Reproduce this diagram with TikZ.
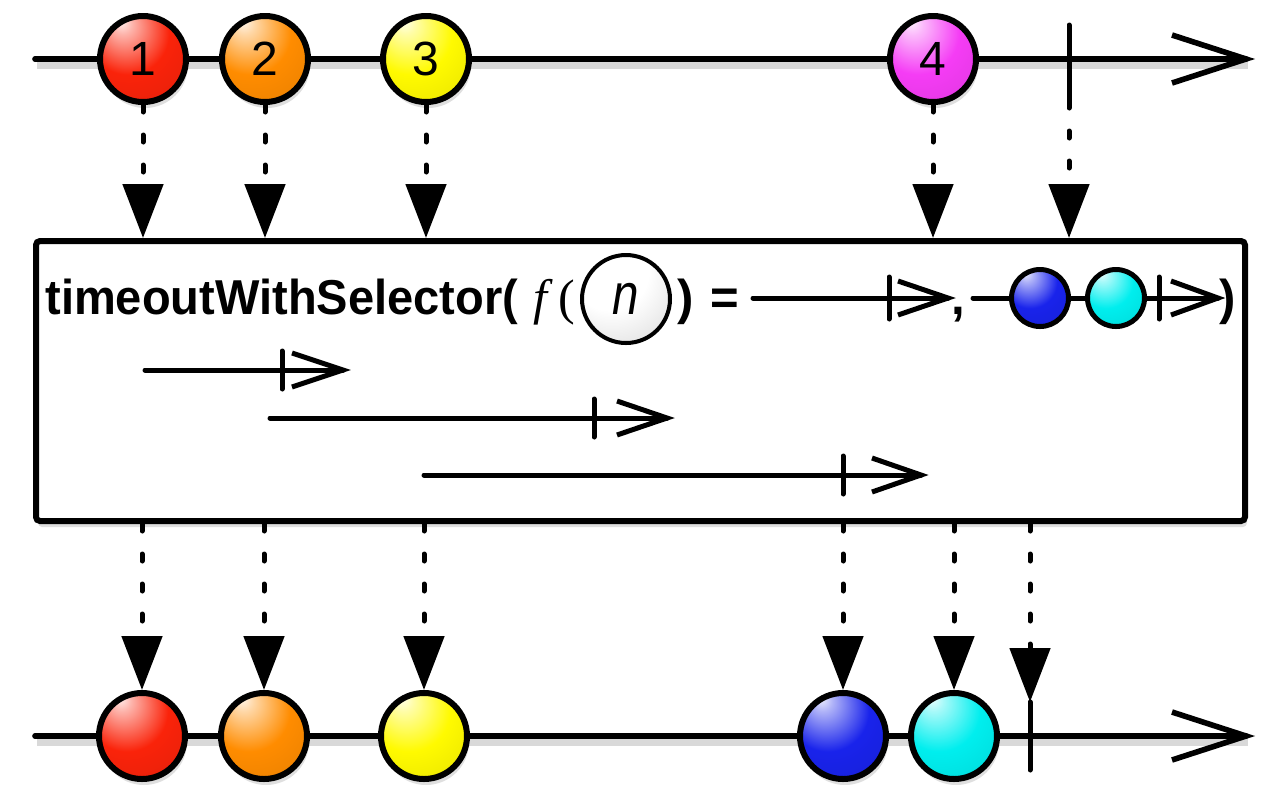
\documentclass[tikz,border=0pt]{standalone}
\usepackage{graphicx}
\usepackage{fontspec}
\setmainfont{Liberation Sans}
\newfontfamily\seriffont{Liberation Serif}
\usetikzlibrary{arrows.meta,shadows}

\definecolor{cred}{RGB}{250,35,10}
\definecolor{corange}{RGB}{255,140,0}
\definecolor{cyellow}{RGB}{255,250,0}
\definecolor{cmagenta}{RGB}{245,60,245}
\definecolor{cblue}{RGB}{25,35,235}
\definecolor{ccyan}{RGB}{0,238,238}
\definecolor{cgray}{RGB}{215,215,215}

\newcommand\defball[2]{\pgfdeclareradialshading{ball#1}{\pgfpoint{-13bp}{22bp}}{color(0bp)=(#2!8!white); color(6bp)=(#2!35!white); color(24bp)=(#2); color(48bp)=(#2!90!black); color(75bp)=(#2!45!black)}}
\defball{red}{cred}
\defball{orange}{corange}
\defball{yellow}{cyellow}
\defball{magenta}{cmagenta}
\defball{blue}{cblue}
\defball{cyan}{ccyan}
\pgfdeclareradialshading{ballgray}{\pgfpoint{-13bp}{22bp}}{color(0bp)=(white); color(22bp)=(white); color(48bp)=(cgray); color(75bp)=(black!55)}

\begin{document}
\begin{tikzpicture}[x=0.5pt,y=-0.5pt,
  axis/.style={line width=2.8pt, line cap=round},
  lshadow/.style={preaction={draw=black, opacity=0.15, line width=4pt, transform canvas={xshift=1pt,yshift=-3pt}}},
  chev/.style={line width=2.8pt, line cap=butt, line join=miter},
  schev/.style={line width=2.5pt, line cap=butt, line join=miter},
  tickmark/.style={line width=2.5pt, line cap=round},
  tline/.style={line width=2.5pt, line cap=round},
  marble/.style={circle, draw, line width=3pt, minimum size=43pt, inner sep=0pt,
    font=\fontsize{24}{24}\selectfont, shading=ball#1,
    drop shadow={shadow xshift=1pt, shadow yshift=-3pt, opacity=0.25}},
  smarble/.style={circle, draw, line width=2.5pt, minimum size=28.5pt, inner sep=0pt, shading=ball#1},
  dotarrow/.style={line width=2.5pt, line cap=round, dash pattern=on 3.5pt off 11.5pt,
    -{Triangle[length=27pt,width=20pt]}},
  btext/.style={font=\fontsize{24.5}{25}\selectfont\bfseries, inner sep=0pt, anchor=base west},
  stext/.style={font=\fontsize{25}{26}\selectfont\seriffont, inner sep=0pt, anchor=base west}
]
\useasboundingbox (0,0) rectangle (1280,800);

% ---------- top timeline ----------
\coordinate (ta0) at (35,59);
\coordinate (ta1) at (1246,59);
\draw[axis,lshadow] (ta0) -- (ta1);
\draw[chev] ([shift={(-74,-24)}]ta1) -- (ta1) -- ([shift={(-74,24)}]ta1);
\coordinate (tka) at (1069,25);
\coordinate (tkb) at (1069,101);
\draw[tickmark] (tka) -- (tkb);
\node[marble=red] (t1) at (143,59) {1};
\node[marble=orange] (t2) at (265,59) {2};
\node[marble=yellow] (t3) at (426,59) {3};
\node[marble=magenta] (t4) at (933,59) {4};

% ---------- box ----------
\node[draw, line width=3pt, rounded corners=2pt, minimum width=604.5pt, minimum height=140pt,
  fill=white, drop shadow={shadow xshift=1pt, shadow yshift=-3pt, opacity=0.25}] (box) at (640.5,381) {};

% top connectors
\draw[dotarrow] (t1.south) -- (t1.south |- box.north);
\draw[dotarrow] (t2.south) -- (t2.south |- box.north);
\draw[dotarrow] (t3.south) -- (t3.south |- box.north);
\draw[dotarrow] (t4.south) -- (t4.south |- box.north);
\draw[dotarrow] (tkb) -- (tkb |- box.north);

% ---------- formula ----------
\node[btext] (ftxt) at (45,314) {\scalebox{0.96}[1]{timeoutWithSelector(}};
\node[stext] (ff) at (533,314) {\itshape f};
\node[stext] (fpo) at (558,314) {(};
\node[circle, draw, line width=2pt, minimum size=44pt, inner sep=0pt, shading=ballgray,
  font=\fontsize{29}{29}\selectfont\itshape] (fn) at (626,299) {\scalebox{0.82}[1]{n}};
\node[btext] (fp2) at (677,314) {)};
\node[btext] (feq) at (710,314) {=};
\node[btext] (fcomma) at (951,314) {,};
\node[btext] (fp3) at (1219,314) {)};

% first formula stream (empty)
\coordinate (fa0) at (753,298);
\coordinate (fa1) at (948,298);
\draw[tline] (fa0) -- (fa1);
\draw[schev] ([shift={(-50,-17)}]fa1) -- (fa1) -- ([shift={(-50,17)}]fa1);
\coordinate (fak1) at (889,277);
\coordinate (fak2) at (889,319);
\draw[tickmark] (fak1) -- (fak2);

% second formula stream (blue, cyan)
\coordinate (fb0) at (973,298);
\coordinate (fb1) at (1218,298);
\draw[tline] (fb0) -- (fb1);
\draw[schev] ([shift={(-47,-17)}]fb1) -- (fb1) -- ([shift={(-47,17)}]fb1);
\coordinate (fbk1) at (1159,277);
\coordinate (fbk2) at (1159,319);
\draw[tickmark] (fbk1) -- (fbk2);
\node[smarble=blue] (fblue) at (1040,298) {};
\node[smarble=cyan] (fcyan) at (1116,298) {};

% ---------- timers in box ----------
\coordinate (m1a) at (145,370);
\coordinate (m1b) at (343,370);
\draw[tline] (m1a) -- (m1b);
\draw[schev] ([shift={(-51,-17)}]m1b) -- (m1b) -- ([shift={(-51,17)}]m1b);
\coordinate (m1k1) at (282,351);
\coordinate (m1k2) at (282,389);
\draw[tickmark] (m1k1) -- (m1k2);

\coordinate (m2a) at (270,418);
\coordinate (m2b) at (667,418);
\draw[tline] (m2a) -- (m2b);
\draw[schev] ([shift={(-50,-17)}]m2b) -- (m2b) -- ([shift={(-50,17)}]m2b);
\coordinate (m2k1) at (594,399);
\coordinate (m2k2) at (594,437);
\draw[tickmark] (m2k1) -- (m2k2);

\coordinate (m3a) at (424,475);
\coordinate (m3b) at (921,475);
\draw[tline] (m3a) -- (m3b);
\draw[schev] ([shift={(-49,-17)}]m3b) -- (m3b) -- ([shift={(-49,17)}]m3b);
\coordinate (m3k1) at (843,456);
\coordinate (m3k2) at (843,494);
\draw[tickmark] (m3k1) -- (m3k2);

% ---------- bottom timeline ----------
\coordinate (ba0) at (35,736);
\coordinate (ba1) at (1246,736);
\draw[axis,lshadow] (ba0) -- (ba1);
\draw[chev] ([shift={(-74,-24)}]ba1) -- (ba1) -- ([shift={(-74,24)}]ba1);
\coordinate (bka) at (1030,702);
\coordinate (bkb) at (1030,770);
\draw[tickmark] (bka) -- (bkb);
\node[marble=red] (b1) at (142,736) {};
\node[marble=orange] (b2) at (264,736) {};
\node[marble=yellow] (b3) at (424,736) {};
\node[marble=blue] (b4) at (843,736) {};
\node[marble=cyan] (b5) at (954,736) {};

% bottom connectors
\draw[dotarrow] (box.south -| b1.north) -- (b1.north);
\draw[dotarrow] (box.south -| b2.north) -- (b2.north);
\draw[dotarrow] (box.south -| b3.north) -- (b3.north);
\draw[dotarrow] (box.south -| b4.north) -- (b4.north);
\draw[dotarrow] (box.south -| b5.north) -- (b5.north);
\draw[dotarrow] (box.south -| bka) -- (bka);
\end{tikzpicture}
\end{document}
